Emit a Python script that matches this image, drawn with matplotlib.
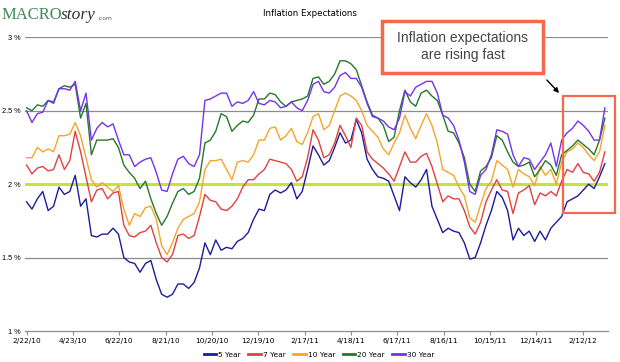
import matplotlib
matplotlib.use('Agg')
import matplotlib.pyplot as plt
import matplotlib.patches as patches
import pandas as pd

# weekly readings, 2/22/10 .. 3/12/12
start = pd.Timestamp('2010-02-22')
dates = pd.date_range(start, periods=108, freq='7D')

y5 = [1.88, 1.83, 1.90, 1.95, 1.82, 1.85, 1.98, 1.93, 1.95, 2.06,
      1.85, 1.90, 1.65, 1.64, 1.66, 1.66, 1.70, 1.66, 1.50, 1.47,
      1.46, 1.40, 1.46, 1.48, 1.35, 1.25, 1.23, 1.25, 1.32, 1.32,
      1.29, 1.33, 1.43, 1.60, 1.52, 1.62, 1.55, 1.57, 1.56, 1.61,
      1.63, 1.67, 1.76, 1.83, 1.82, 1.93, 1.96, 1.94, 1.96, 2.01,
      1.90, 1.95, 2.10, 2.26, 2.20, 2.13, 2.16, 2.25, 2.35, 2.28,
      2.30, 2.44, 2.35, 2.17, 2.10, 2.05, 2.04, 2.02, 1.92, 1.82,
      2.05, 2.01, 1.98, 2.03, 2.10, 1.85, 1.76, 1.67, 1.70, 1.68,
      1.67, 1.60, 1.49, 1.50, 1.60, 1.72, 1.82, 1.95, 1.91, 1.82,
      1.62, 1.70, 1.65, 1.68, 1.61, 1.68, 1.62, 1.70, 1.74, 1.78,
      1.88, 1.90, 1.92, 1.96, 2.00, 1.97, 2.05, 2.14]

y7 = [2.13, 2.07, 2.11, 2.12, 2.09, 2.10, 2.20, 2.10, 2.16, 2.36,
      2.22, 2.05, 1.88, 1.96, 1.97, 1.90, 1.94, 1.95, 1.72, 1.65,
      1.64, 1.67, 1.68, 1.72, 1.60, 1.50, 1.47, 1.52, 1.65, 1.66,
      1.63, 1.65, 1.78, 1.93, 1.89, 1.88, 1.83, 1.82, 1.85, 1.90,
      1.98, 2.03, 2.03, 2.07, 2.10, 2.17, 2.16, 2.15, 2.14, 2.10,
      2.02, 2.05, 2.18, 2.37, 2.30, 2.18, 2.20, 2.28, 2.40, 2.33,
      2.25, 2.45, 2.40, 2.22, 2.17, 2.14, 2.11, 2.07, 2.02, 2.12,
      2.22, 2.15, 2.15, 2.19, 2.21, 2.12, 2.00, 1.88, 1.92, 1.90,
      1.90, 1.82, 1.71, 1.66, 1.74, 1.88, 1.96, 2.03, 1.96, 1.95,
      1.80, 1.94, 1.96, 1.99, 1.86, 1.94, 1.92, 1.95, 1.92, 2.02,
      2.10, 2.08, 2.14, 2.08, 2.07, 2.02, 2.08, 2.22]

y10 = [2.18, 2.18, 2.25, 2.22, 2.24, 2.22, 2.33, 2.33, 2.34, 2.42,
       2.33, 2.18, 2.03, 1.98, 2.01, 1.98, 1.95, 1.99, 1.83, 1.72,
       1.80, 1.78, 1.84, 1.85, 1.76, 1.58, 1.52, 1.60, 1.70, 1.76,
       1.78, 1.80, 1.88, 2.10, 2.16, 2.16, 2.17, 2.10, 2.03, 2.15,
       2.16, 2.15, 2.20, 2.30, 2.30, 2.38, 2.39, 2.30, 2.33, 2.38,
       2.29, 2.27, 2.35, 2.46, 2.48, 2.37, 2.40, 2.50, 2.60, 2.62,
       2.60, 2.57, 2.50, 2.40, 2.36, 2.32, 2.24, 2.20, 2.28, 2.35,
       2.47, 2.38, 2.31, 2.40, 2.48, 2.40, 2.28, 2.10, 2.08, 2.06,
       1.98, 1.92, 1.77, 1.74, 1.86, 1.97, 2.02, 2.16, 2.13, 2.10,
       1.98, 2.10, 2.07, 2.05, 1.99, 2.12, 2.06, 2.10, 2.00, 2.15,
       2.22, 2.24, 2.28, 2.25, 2.20, 2.16, 2.22, 2.40]

y20 = [2.52, 2.50, 2.54, 2.53, 2.57, 2.56, 2.65, 2.67, 2.66, 2.68,
       2.45, 2.55, 2.20, 2.30, 2.30, 2.30, 2.31, 2.25, 2.13, 2.08,
       2.04, 1.97, 2.02, 1.90, 1.80, 1.72, 1.78, 1.87, 1.95, 1.97,
       1.93, 1.95, 2.04, 2.28, 2.30, 2.36, 2.48, 2.46, 2.36, 2.40,
       2.43, 2.42, 2.47, 2.58, 2.58, 2.62, 2.61, 2.56, 2.53, 2.56,
       2.57, 2.58, 2.60, 2.72, 2.73, 2.68, 2.70, 2.75, 2.84, 2.84,
       2.82, 2.78, 2.67, 2.56, 2.47, 2.45, 2.40, 2.29, 2.32, 2.50,
       2.64, 2.56, 2.53, 2.62, 2.64, 2.60, 2.57, 2.47, 2.36, 2.35,
       2.28, 2.18, 2.00, 1.95, 2.09, 2.12, 2.18, 2.33, 2.30, 2.22,
       2.15, 2.12, 2.13, 2.15, 2.05, 2.10, 2.16, 2.13, 2.06, 2.20,
       2.23, 2.26, 2.30, 2.27, 2.24, 2.20, 2.30, 2.45]

y30 = [2.50, 2.42, 2.48, 2.49, 2.57, 2.55, 2.65, 2.65, 2.64, 2.70,
       2.50, 2.62, 2.30, 2.38, 2.42, 2.39, 2.41, 2.30, 2.20, 2.20,
       2.12, 2.15, 2.17, 2.18, 2.08, 1.96, 1.95, 2.07, 2.17, 2.19,
       2.14, 2.12, 2.20, 2.57, 2.58, 2.60, 2.62, 2.62, 2.53, 2.56,
       2.55, 2.57, 2.63, 2.55, 2.54, 2.57, 2.56, 2.52, 2.53, 2.56,
       2.52, 2.50, 2.57, 2.68, 2.70, 2.63, 2.62, 2.66, 2.74, 2.76,
       2.72, 2.72, 2.66, 2.55, 2.46, 2.45, 2.43, 2.39, 2.37, 2.45,
       2.63, 2.60, 2.66, 2.68, 2.70, 2.70, 2.62, 2.47, 2.45, 2.40,
       2.30, 2.15, 1.95, 1.93, 2.06, 2.10, 2.20, 2.37, 2.36, 2.34,
       2.20, 2.12, 2.18, 2.17, 2.10, 2.15, 2.20, 2.28, 2.12, 2.30,
       2.35, 2.38, 2.43, 2.40, 2.36, 2.30, 2.30, 2.52]

series = [('5 Year', y5, '#1c1c9e'), ('7 Year', y7, '#e2413f'),
          ('10 Year', y10, '#f5a52a'), ('20 Year', y20, '#26782a'),
          ('30 Year', y30, '#7532ee')]

tick_dates = [start + pd.Timedelta(days=60 * i) for i in range(13)]
tick_labels = [f'{d.month}/{d.day}/{d.year % 100:02d}' for d in tick_dates]

W, H = 620, 362
fig = plt.figure(figsize=(W / 100, H / 100), dpi=100)
ax = fig.add_axes([25 / W, 1 - 331 / H, 583 / W, 293.7 / H])

for lvl in [1.5, 2.5, 3.0]:
    ax.axhline(lvl, color='#8c8c8c', lw=0.9, zorder=1)
ax.axhline(2.0, color='#c4e43a', lw=2.2, zorder=1)

for name, vals, col in series:
    ax.plot(dates, vals, color=col, lw=1.0, label=name, zorder=2)

ax.set_xlim(start - pd.Timedelta(days=2), start + pd.Timedelta(days=753))
ax.set_ylim(1, 3)
ax.set_xticks(tick_dates)
ax.set_xticklabels(tick_labels)
ax.set_yticks([1, 1.5, 2, 2.5, 3])
ax.set_yticklabels(['1 %', '1.5 %', '2 %', '2.5 %', '3 %'],
                   family='Liberation Sans')
ax.tick_params(axis='x', labelsize=5.3, length=3, color='#8c8c8c', pad=2)
ax.tick_params(axis='y', labelsize=5.3, length=0, pad=3.5)
for s in ['top', 'right', 'left']:
    ax.spines[s].set_visible(False)
ax.spines['bottom'].set_color('#8c8c8c')
ax.spines['bottom'].set_linewidth(0.9)

fig.text(310 / W, 1 - 13 / H, 'Inflation Expectations', fontsize=6.2,
         ha='center', va='center')

# logo
fig.text(2 / W, 1 - 15 / H, 'MACRO', family='Liberation Serif', fontsize=12,
         color='#3f8b5c', va='center')
fig.text(61 / W, 1 - 15 / H, 'story', family='Liberation Serif', fontsize=12.5,
         style='italic', color='#333333', va='center')
fig.text(97 / W, 1 - 18 / H, '.com', fontsize=4.3, color='#555555', va='center')

leg = fig.legend(loc='center', bbox_to_anchor=(319 / W, 1 - 354.5 / H), ncol=5,
                 frameon=False, fontsize=5.3, handlelength=1.7,
                 columnspacing=1.0, handletextpad=0.3)
for h in leg.get_lines():
    h.set_linewidth(2)

# callout
fig.add_artist(patches.Rectangle((382 / W, 1 - 73 / H), 161 / W, 52 / H,
               transform=fig.transFigure, facecolor='white',
               edgecolor='#f4694d', lw=2.5))
fig.text(462.5 / W, 1 - 46.5 / H, 'Inflation expectations\nare rising fast',
         family='Liberation Sans', fontsize=10, color='#444444',
         ha='center', va='center', linespacing=1.25)
fig.add_artist(patches.Rectangle((563 / W, 1 - 212.5 / H), 51.5 / W, 117 / H,
               transform=fig.transFigure, facecolor='none',
               edgecolor='#f4694d', lw=1.6, zorder=5))
fig.add_artist(patches.FancyArrowPatch((545 / W, 1 - 78 / H), (561 / W, 1 - 95 / H),
               transform=fig.transFigure, arrowstyle='-|>', mutation_scale=7,
               color='black', lw=1))

fig.savefig('out.png', dpi=100)
